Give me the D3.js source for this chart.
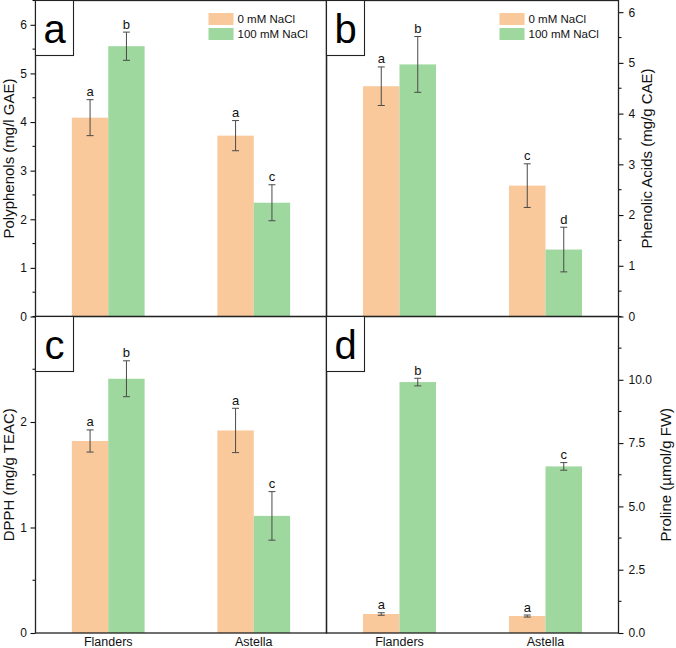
<!DOCTYPE html>
<html>
<head>
<meta charset="utf-8">
<script src="https://cdn.jsdelivr.net/npm/d3@7"></script>
<style>
  html, body { margin: 0; padding: 0; background: #fff; }
  svg { display: block; font-family: "Liberation Sans", Arial, sans-serif; }
</style>
</head>
<body>
<svg id="chart" width="676" height="648"></svg>
<script>
// ---------------- DATA ----------------
const categories = ["Flanders", "Astella"];
const seriesNames = ["0 mM NaCl", "100 mM NaCl"];
const seriesColors = ["#F9C89B", "#9ED89E"];

// values: [category][series]
const polyphenols = [[4.09, 5.56], [3.72, 2.34]];
const polyphenolsErr = [[0.37, 0.29], [0.31, 0.37]];
const polyphenolsLetters = [["a", "b"], ["a", "c"]];

const phenolicAcids = [[4.54, 4.97], [2.58, 1.32]];
const phenolicAcidsErr = [[0.38, 0.55], [0.43, 0.44]];
const phenolicAcidsLetters = [["a", "b"], ["c", "d"]];

const dpph = [[1.82, 2.41], [1.92, 1.11]];
const dpphErr = [[0.105, 0.17], [0.21, 0.23]];
const dpphLetters = [["a", "b"], ["a", "c"]];

const proline = [[0.75, 9.91], [0.67, 6.58]];
const prolineErr = [[0.05, 0.15], [0.04, 0.15]];
const prolineLetters = [["a", "b"], ["a", "c"]];

const ticksA = [0, 1, 2, 3, 4, 5, 6];
const ticksB = [0, 1, 2, 3, 4, 5, 6];
const ticksC = [0, 1, 2];
const ticksD = [0, 2.5, 5, 7.5, 10];

// ---------------- LAYOUT ----------------
const svg = d3.select("#chart");
const L = 35.5, M = 326.5, R = 618.5, T = 0.5, MY = 316.5, B = 633;

const panels = [
  { id: "a", x0: L, x1: M, y0: T, y1: MY, max: 6.5, ticks: ticksA, minor: 0.5, fmt: d3.format("d"),
    side: "left", vals: polyphenols, errs: polyphenolsErr, letters: polyphenolsLetters,
    title: "Polyphenols (mg/l GAE)", legend: true, xlabels: false },
  { id: "b", x0: M, x1: R, y0: T, y1: MY, max: 6.23, ticks: ticksB, minor: 0.5, fmt: d3.format("d"),
    side: "right", vals: phenolicAcids, errs: phenolicAcidsErr, letters: phenolicAcidsLetters,
    title: "Phenolic Acids (mg/g CAE)", legend: true, xlabels: false },
  { id: "c", x0: L, x1: M, y0: MY, y1: B, max: 3, ticks: ticksC, minor: 0.5, fmt: d3.format("d"),
    side: "left", vals: dpph, errs: dpphErr, letters: dpphLetters,
    title: "DPPH (mg/g TEAC)", legend: false, xlabels: true },
  { id: "d", x0: M, x1: R, y0: MY, y1: B, max: 12.5, ticks: ticksD, minor: 1.25, fmt: d3.format(".1f"),
    side: "right", vals: proline, errs: prolineErr, letters: prolineLetters,
    title: "Proline (\u00B5mol/g FW)", legend: false, xlabels: true }
];

panels.forEach(p => {
  const g = svg.append("g");
  const x = d3.scaleBand().domain(categories).range([p.x0, p.x1]).paddingInner(0.5).paddingOuter(0.25);
  const xs = d3.scaleBand().domain(seriesNames).range([0, x.bandwidth()]).padding(0);
  const y = d3.scaleLinear().domain([0, p.max]).range([p.y1, p.y0]);

  // bars
  categories.forEach((c, ci) => {
    seriesNames.forEach((s, si) => {
      const v = p.vals[ci][si];
      g.append("rect")
        .attr("x", x(c) + xs(s))
        .attr("y", y(v))
        .attr("width", xs.bandwidth())
        .attr("height", y(0) - y(v))
        .attr("fill", seriesColors[si]);
    });
  });

  // error bars + letters
  categories.forEach((c, ci) => {
    seriesNames.forEach((s, si) => {
      const v = p.vals[ci][si], e = p.errs[ci][si];
      const cx = x(c) + xs(s) + xs.bandwidth() / 2;
      const eg = g.append("g").attr("stroke", "#4a4a4a").attr("stroke-width", 1);
      eg.append("line").attr("x1", cx).attr("x2", cx).attr("y1", y(v + e)).attr("y2", y(v - e));
      eg.append("line").attr("x1", cx - 3.5).attr("x2", cx + 3.5).attr("y1", y(v + e)).attr("y2", y(v + e));
      eg.append("line").attr("x1", cx - 3.5).attr("x2", cx + 3.5).attr("y1", y(v - e)).attr("y2", y(v - e));
      g.append("text")
        .attr("x", cx).attr("y", y(v + e) - 3.5)
        .attr("text-anchor", "middle")
        .attr("font-size", 13)
        .attr("fill", "#111")
        .text(p.letters[ci][si]);
    });
  });

  // y axis
  const axisX = p.side === "left" ? p.x0 : p.x1;
  const axis = (p.side === "left" ? d3.axisLeft(y) : d3.axisRight(y))
    .tickValues(p.ticks).tickFormat(p.fmt).tickSize(5).tickPadding(p.side === "left" ? 3.5 : 5);
  const ag = g.append("g").attr("transform", `translate(${axisX},0)`).call(axis);
  ag.select(".domain").remove();
  ag.selectAll(".tick line").attr("stroke", "#111").attr("stroke-width", 1.1);
  ag.selectAll(".tick text").attr("font-size", 12).attr("fill", "#111")
    .attr("font-family", "Liberation Sans, Arial, sans-serif");
  // minor ticks
  const minors = d3.range(p.minor, p.max + 1e-6, p.minor).filter(v => !p.ticks.some(t => Math.abs(t - v) < 1e-6));
  const dir = p.side === "left" ? -1 : 1;
  g.selectAll(null).data(minors).enter().append("line")
    .attr("x1", axisX).attr("x2", axisX + dir * 3)
    .attr("y1", d => y(d)).attr("y2", d => y(d))
    .attr("stroke", "#111").attr("stroke-width", 1.1);

  // frame
  g.append("rect")
    .attr("x", p.x0).attr("y", p.y0)
    .attr("width", p.x1 - p.x0).attr("height", p.y1 - p.y0)
    .attr("fill", "none").attr("stroke", "#222").attr("stroke-width", 1.3);

  // panel letter box
  g.append("rect")
    .attr("x", p.x0).attr("y", p.y0)
    .attr("width", 38).attr("height", 55)
    .attr("fill", "#fff").attr("stroke", "#222").attr("stroke-width", 1.1);
  g.append("text")
    .attr("x", p.x0 + 19).attr("y", p.y0 + 42)
    .attr("text-anchor", "middle")
    .attr("font-size", 40).attr("fill", "#000")
    .text(p.id);

  // legend
  if (p.legend) {
    const lg = g.append("g").attr("transform", `translate(${p.x0 + 173},13)`);
    seriesNames.forEach((s, si) => {
      lg.append("rect").attr("x", 0).attr("y", si * 15).attr("width", 25).attr("height", 12)
        .attr("fill", seriesColors[si]);
      lg.append("text").attr("x", 29).attr("y", si * 15 + 10)
        .attr("font-size", 11.5).attr("fill", "#111").text(s);
    });
  }

  // x labels
  if (p.xlabels) {
    categories.forEach(c => {
      g.append("text")
        .attr("x", x(c) + x.bandwidth() / 2).attr("y", 646)
        .attr("text-anchor", "middle")
        .attr("font-size", 12.5).attr("fill", "#111")
        .text(c);
    });
  }

  // axis title
  const tx = p.side === "left" ? 13.5 : (p.id === "b" ? 652 : 671);
  const ty = (p.y0 + p.y1) / 2;
  g.append("text")
    .attr("transform", `translate(${tx},${ty}) rotate(-90)`)
    .attr("text-anchor", "middle")
    .attr("font-size", 15).attr("fill", "#111")
    .text(p.title);
});
</script>
</body>
</html>
